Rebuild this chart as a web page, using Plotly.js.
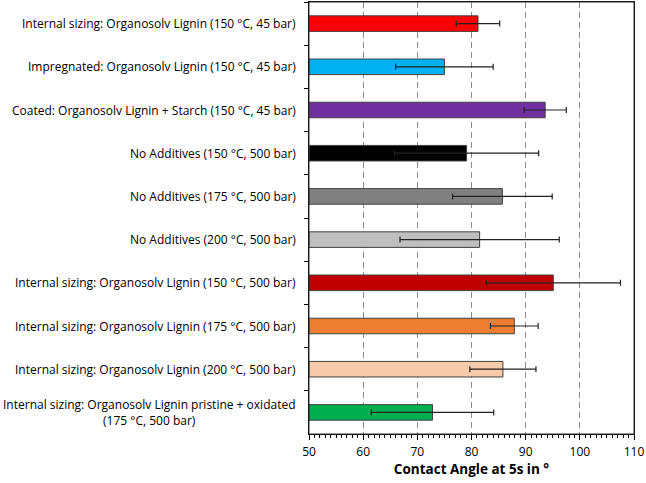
<!DOCTYPE html>
<html>
<head>
<meta charset="utf-8">
<script src="https://cdn.plot.ly/plotly-3.0.1.min.js"></script>
<style>html,body{margin:0;padding:0;background:#fff;}#chart{width:646px;height:483px;}</style>
</head>
<body>
<div id="chart"></div>
<script>
const categories = [
  "Internal sizing: Organosolv Lignin (150 °C, 45 bar)",
  "Impregnated: Organosolv Lignin (150 °C, 45 bar)",
  "Coated: Organosolv Lignin + Starch (150 °C, 45 bar)",
  "No Additives (150 °C, 500 bar)",
  "No Additives (175 °C, 500 bar)",
  "No Additives (200 °C, 500 bar)",
  "Internal sizing: Organosolv Lignin (150 °C, 500 bar)",
  "Internal sizing: Organosolv Lignin (175 °C, 500 bar)",
  "Internal sizing: Organosolv Lignin (200 °C, 500 bar)",
  "Internal sizing: Organosolv Lignin pristine + oxidated<br>(175 °C, 500 bar)"
];
const contactAngle = [81.2, 75.0, 93.6, 79.1, 85.7, 81.5, 95.1, 87.9, 85.8, 72.8];
const errorValues = [4.0, 9.0, 3.9, 13.3, 9.2, 14.7, 12.4, 4.4, 6.1, 11.3];
const barColors = ["#FF0000", "#00B0F0", "#7030A0", "#000000", "#808080", "#BFBFBF", "#C00000", "#ED7D31", "#F8CBAD", "#00B050"];
const xTickValues = [50, 60, 70, 80, 90, 100, 110];
const axisBase = 50;

const FONT = "'Open Sans', Lato, sans-serif";

const trace = {
  type: "bar",
  orientation: "h",
  x: contactAngle.map(v => v - axisBase),
  y: categories,
  base: axisBase,
  marker: { color: barColors, line: { color: "#404040", width: 1 } },
  error_x: { type: "data", array: errorValues, visible: true, color: "#222", thickness: 1.2, width: 3 },
  hoverinfo: "x+y"
};

const annotations = categories.map(c => ({
  xref: "paper", yref: "y", x: 0, y: c, xanchor: "right", yanchor: "middle",
  xshift: -11, text: c, showarrow: false, align: "center",
  font: { family: FONT, size: 12, color: "#000" }
}));

const layout = {
  width: 646, height: 483,
  margin: { l: 309, r: 12, t: 2, b: 49, pad: 0 },
  paper_bgcolor: "#fff", plot_bgcolor: "#fff",
  showlegend: false,
  bargap: 0.64,
  font: { family: FONT, size: 12, color: "#000" },
  xaxis: {
    range: [50, 110],
    tickvals: xTickValues,
    ticks: "outside", ticklen: 5, tickcolor: "#000", tickwidth: 1,
    ticklabelstandoff: 2,
    showline: true, linecolor: "#000", linewidth: 1, mirror: true,
    showgrid: true, gridcolor: "#8c8c8c", griddash: "6px,4px", gridwidth: 1,
    zeroline: false,
    minor: { dtick: 1, ticks: "outside", ticklen: 3, tickcolor: "#000", showgrid: false },
    tickfont: { family: FONT, size: 12, color: "#000" },
    title: { text: "<b>Contact Angle at 5s in °</b>", font: { family: FONT, size: 13.5, color: "#000" }, standoff: 0 }
  },
  yaxis: {
    type: "category",
    autorange: "reversed",
    showticklabels: false,
    ticks: "outside", ticklen: 4, tickcolor: "#000", tickson: "boundaries",
    showline: true, linecolor: "#000", linewidth: 1, mirror: true,
    showgrid: false, zeroline: false
  },
  shapes: [{
    type: "rect", xref: "paper", yref: "paper", x0: 0, x1: 1, y0: 0, y1: 1,
    line: { color: "#333", width: 1 }, fillcolor: "rgba(0,0,0,0)", layer: "above"
  }],
  annotations: annotations
};

Plotly.newPlot("chart", [trace], layout, { displayModeBar: false, staticPlot: true });
</script>
</body>
</html>
